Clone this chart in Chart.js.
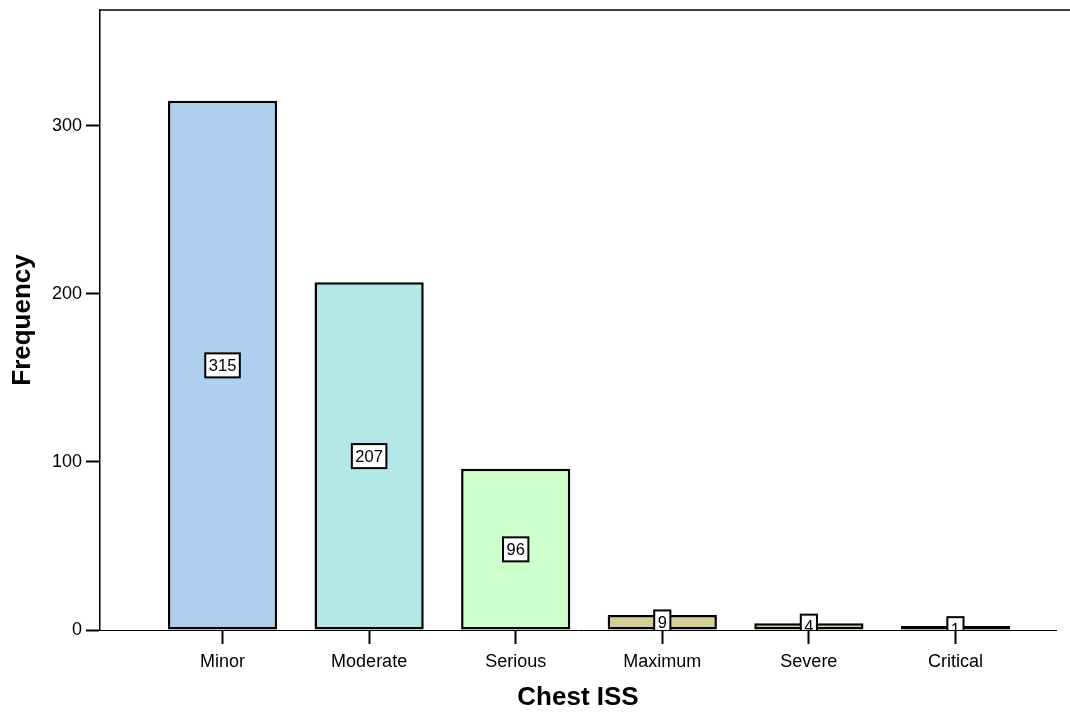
<!DOCTYPE html>
<html lang="en">
<head>
    <meta charset="UTF-8">
    <title>Chest ISS</title>
    <script src="https://cdn.jsdelivr.net/npm/chart.js"></script>
    <style>
        html, body { margin: 0; padding: 0; background: #ffffff; }
        #box { width: 1070px; height: 715px; }
    </style>
</head>
<body>

    <div id="box">
        <canvas id="GraficoISS" width="1070" height="715"></canvas>
    </div>

<script>

    // dados
    var categorias = ['Minor', 'Moderate', 'Serious', 'Maximum', 'Severe', 'Critical'];
    var frequencias = [315, 207, 96, 9, 4, 1];
    var cores = ['#AFCFEE', '#B4E7E7', '#CCFFCC', '#D5CE98', '#D5CE98', '#D5CE98'];
    var ticksY = [0, 100, 200, 300];

    var fonte = "Arial, 'Liberation Sans', sans-serif";

    // caixinhas com o valor no meio de cada barra
    var rotulos = {
        id: 'rotulos',
        afterDatasetsDraw(chart) {
            const ctx = chart.ctx;
            const area = chart.chartArea;
            const barras = chart.getDatasetMeta(0).data;
            ctx.save();
            ctx.beginPath();
            ctx.rect(area.left, area.top, area.right - area.left, area.bottom - area.top);
            ctx.clip();
            ctx.font = '16.5px ' + fonte;
            ctx.textAlign = 'center';
            ctx.textBaseline = 'middle';
            barras.forEach(function (barra, i) {
                const texto = String(frequencias[i]);
                const w = ctx.measureText(texto).width + 7;
                const h = 24;
                const valor = frequencias[i];
                const cy = chart.scales.y.getPixelForValue(valor / 2);
                ctx.fillStyle = '#ffffff';
                ctx.fillRect(barra.x - w / 2, cy - h / 2, w, h);
                ctx.lineWidth = 2;
                ctx.strokeStyle = '#000000';
                ctx.strokeRect(barra.x - w / 2, cy - h / 2, w, h);
                ctx.fillStyle = '#000000';
                ctx.fillText(texto, barra.x, cy + 1);
            });
            ctx.restore();
        }
    };

    // linha de cima da moldura
    var moldura = {
        id: 'moldura',
        afterDraw(chart) {
            const ctx = chart.ctx;
            const area = chart.chartArea;
            ctx.save();
            ctx.strokeStyle = '#000000';
            ctx.lineWidth = 1.5;
            ctx.beginPath();
            ctx.moveTo(area.left, area.top);
            ctx.lineTo(chart.width, area.top);
            ctx.stroke();
            ctx.restore();
        }
    };

    const ctx = document.getElementById('GraficoISS').getContext('2d');
    const grafico = new Chart(ctx, {
        type: 'bar',
        data: {
            datasets: [{
                label: 'Frequency',
                data: categorias.map((c, i) => ({ x: i, y: frequencias[i] })),
                backgroundColor: cores,
                borderColor: '#000000',
                borderWidth: 2.5,
                borderSkipped: false,
                minBarLength: 4,
                categoryPercentage: 1,
                barPercentage: 0.745
            }]
        },
        options: {
            responsive: false,
            animation: false,
            devicePixelRatio: 1,
            layout: {
                padding: { top: 10, right: 14, left: 0, bottom: 0 }
            },
            plugins: {
                legend: { display: false },
                tooltip: { enabled: false }
            },
            scales: {
                x: {
                    type: 'linear',
                    min: -0.836,
                    max: 5.686,
                    offset: false,
                    afterBuildTicks: (s) => { s.ticks = categorias.map((c, i) => ({ value: i })); },
                    afterFit: (s) => { s.height = 85; s.paddingLeft = 0; s.paddingRight = 0; },
                    ticks: {
                        callback: (v) => categorias[v],
                        color: '#000000',
                        font: { family: fonte, size: 18 },
                        padding: 7,
                        maxRotation: 0,
                        autoSkip: false
                    },
                    grid: {
                        display: true,
                        offset: false,
                        drawOnChartArea: false,
                        drawTicks: true,
                        tickLength: 14,
                        tickWidth: 2,
                        color: '#000000'
                    },
                    border: { display: true, color: '#000000', width: 1 },
                    title: {
                        display: true,
                        text: 'Chest ISS',
                        color: '#000000',
                        font: { family: fonte, size: 26, weight: 'bold' },
                        padding: { top: 0, bottom: 2 }
                    }
                },
                y: {
                    min: 0,
                    max: 369,
                    afterBuildTicks: (s) => { s.ticks = ticksY.map(v => ({ value: v })); },
                    afterFit: (s) => { s.width = 100; s.paddingTop = 0; s.paddingBottom = 0; },
                    ticks: {
                        color: '#000000',
                        font: { family: fonte, size: 18 },
                        padding: 4
                    },
                    grid: {
                        display: true,
                        drawOnChartArea: false,
                        drawTicks: true,
                        tickLength: 14,
                        tickWidth: 2,
                        color: '#000000'
                    },
                    border: { display: true, color: '#000000', width: 1.5 },
                    title: {
                        display: true,
                        text: 'Frequency',
                        color: '#000000',
                        font: { family: fonte, size: 26, weight: 'bold' },
                        padding: { top: 7, bottom: 0 }
                    }
                }
            }
        },
        plugins: [rotulos, moldura]
    });

</script>
</body>
</html>
